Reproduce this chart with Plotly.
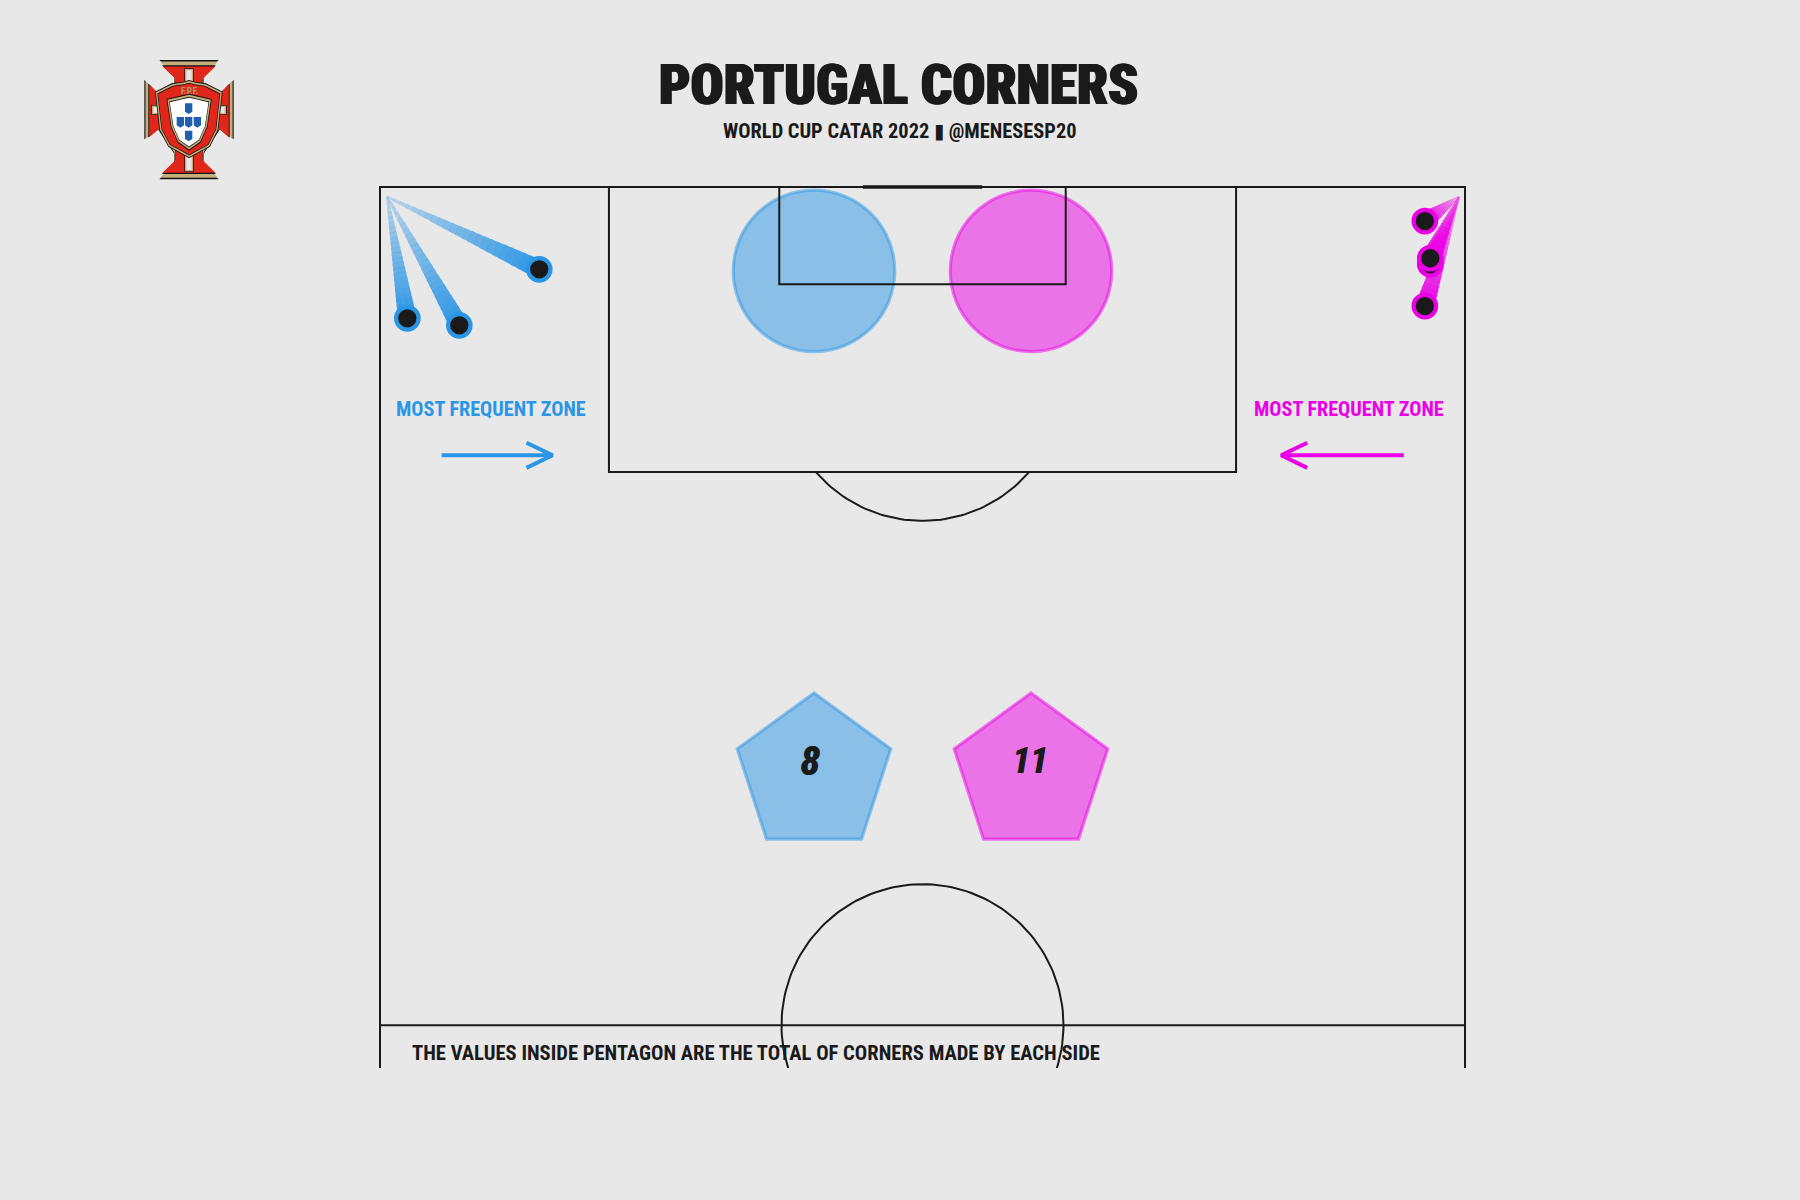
import numpy as np
import plotly.graph_objects as go

# ---------- data ----------
left_origin = (0.65, 99.42)
left_end_x = [14.68, 2.52, 7.31]
left_end_y = [95.09, 92.17, 91.75]
right_origin = (99.45, 99.42)
right_end_x = [96.3, 96.8, 96.8, 96.3]
right_end_y = [97.97, 95.4, 95.75, 92.9]
zone_x = [40, 60]
zone_y = [95, 95]
total_x = [40, 60]
total_y = [65, 65]
total_values = [8, 11]
zone_labels = ["MOST FREQUENT ZONE", "MOST FREQUENT ZONE"]

# ---------- style ----------
BG = "#E8E8E8"
INK = "#1A1A1A"
BLUE = "#2B96E6"
MAGENTA = "#EB00E5"
HEAD = "Roboto Condensed, DejaVu Sans Condensed, Roboto"

W, H = 1800, 1200
PX_X, PX_Y = 10.85, 16.76          # pixels per pitch unit
L, R, T, B = 370, 1475, 177, 1067.7  # plot area in pixels
ORG_X, ORG_Y = 380, 187


def to_x(px):
    return (px - ORG_X) / PX_X


def to_y(py):
    return 100 - (py - ORG_Y) / PX_Y


def paper_x(px):
    return (px - L) / (R - L)


def paper_y(py):
    return (B - py) / (B - T)


fig = go.Figure()


def line(xs, ys, width=2, color=INK, opacity=1):
    fig.add_trace(go.Scatter(x=xs, y=ys, mode="lines", opacity=opacity,
                             line=dict(color=color, width=width),
                             hoverinfo="skip", showlegend=False))


# ---------- zones and pentagons ----------
BLUE_A = "rgba(43,150,230,0.5)"
MAGENTA_A = "rgba(235,0,229,0.5)"
for symbol, xs, ys in (("circle", zone_x, zone_y), ("pentagon", total_x, total_y)):
    for x, y, c in zip(xs, ys, (BLUE_A, MAGENTA_A)):
        fig.add_trace(go.Scatter(x=[x], y=[y], mode="markers", hoverinfo="skip", showlegend=False,
                                 marker=dict(size=161.5, symbol=symbol, color=c,
                                             line=dict(color=c, width=3.2))))

# ---------- pitch ----------
line([0, 0, 100, 100], [0, 100, 100, 0])
line([0, 100], [50, 50])
line([21.1, 21.1, 78.9, 78.9], [100, 83, 83, 100])
line([36.8, 36.8, 63.2, 63.2], [100, 94.2, 94.2, 100])
line([44.5, 55.5], [100, 100], width=3.6)
t = np.linspace(0, 2 * np.pi, 181)
radius_px = 141
line(50 + radius_px / PX_X * np.cos(t), 50 + radius_px / PX_Y * np.sin(t), width=2)
t = np.linspace(np.pi + 0.716, 2 * np.pi - 0.716, 60)
line(50 + radius_px / PX_X * np.cos(t), 88.5 + radius_px / PX_Y * np.sin(t), width=2)


# ---------- corners ----------
def comet(origin, xs, ys, color, steps=24):
    for ex, ey in zip(xs, ys):
        length = np.hypot((ex - origin[0]) * PX_X, (ey - origin[1]) * PX_Y)
        overlap = 0.35 / length
        for i in range(steps):
            a, b = i / steps, (i + 1) / steps
            f = (a + b) / 2
            e = min(1, b + overlap)
            line([origin[0] + (ex - origin[0]) * a, origin[0] + (ex - origin[0]) * e],
                 [origin[1] + (ey - origin[1]) * a, origin[1] + (ey - origin[1]) * e],
                 width=2 + 17 * f, color=color, opacity=0.22 + 0.78 * f)
    fig.add_trace(go.Scatter(x=xs, y=ys, mode="markers", hoverinfo="skip", showlegend=False,
                             marker=dict(size=22.5, color=INK, line=dict(color=color, width=4.2))))


comet(left_origin, left_end_x, left_end_y, BLUE)
comet(right_origin, right_end_x, right_end_y, MAGENTA)


# ---------- arrows ----------
def arrow(x0, x1, y, color):
    d = 2.4 if x1 > x0 else -2.4
    fig.add_trace(go.Scatter(x=[x0, x1, None, x1 - d, x1, x1 - d],
                             y=[y, y, None, y + 0.75, y, y - 0.75],
                             mode="lines", hoverinfo="skip", showlegend=False,
                             line=dict(color=color, width=4)))


arrow(5.68, 15.9, 84, BLUE)
arrow(94.36, 83.06, 84, MAGENTA)

# ---------- text ----------
ann = []


def text(s, px, py, size, color=INK, italic=False, shadow="none", family=HEAD, weight=700):
    ann.append(dict(text=s, xref="paper", yref="paper", x=paper_x(px), y=paper_y(py),
                    xanchor="center", yanchor="middle", showarrow=False,
                    font=dict(family=family, size=size, color=color, weight=weight,
                              style="italic" if italic else "normal", shadow=shadow)))


text("PORTUGAL CORNERS", 898, 85.5, 55, shadow="1px 0 0 #1A1A1A, -1px 0 0 #1A1A1A", weight=900)
text("WORLD CUP CATAR 2022 ▮ @MENESESP20", 899.5, 131, 20.4)
text(zone_labels[0], 491, 409, 20.2, BLUE)
text(zone_labels[1], 1349, 409, 20.2, MAGENTA)
text("THE VALUES INSIDE PENTAGON ARE THE TOTAL OF CORNERS MADE BY EACH SIDE", 756, 1053, 20.6)
text(str(total_values[0]), 810, 761, 40, italic=True, shadow="1px 0 0 #1A1A1A")
text(str(total_values[1]), 1029, 761, 36, italic=True, shadow="1px 0 0 #1A1A1A")

# ---------- crest (drawn in zoom-like local pixels) ----------
shapes = []


def poly(points, fill, scale=1.0, cx=267, cy=269, line_color=None, lw=0):
    pts = [((cx + (x - cx) * scale) / 3 + 100, (cy + (y - cy) * scale) / 3 + 30) for x, y in points]
    path = "M " + " L ".join(f"{paper_x(x):.5f},{paper_y(y):.5f}" for x, y in pts) + " Z"
    shapes.append(dict(type="path", xref="paper", yref="paper", path=path, fillcolor=fill,
                       line=dict(color=line_color or fill, width=lw), layer="above"))


cross = [(178, 90), (356, 90), (312, 132), (312, 175), (362, 190), (401, 150), (401, 328), (362, 295),
         (312, 370), (312, 405), (356, 448), (178, 448), (222, 405), (222, 370), (172, 295), (133, 328),
         (133, 150), (172, 190), (222, 175), (222, 132)]
GOLD, RED, CBLUE = "#C2AE7A", "#E1261C", "#1F5FAE"
poly(cross, "#111111")
poly(cross, GOLD, 0.975)
poly(cross, "#111111", 0.91)
poly(cross, RED, 0.89)
# arm details
for cx_, cy_, w_, h_ in ((267, 143, 14, 28), (267, 398, 14, 28)):
    poly([(cx_ - w_, cy_ - h_), (cx_ + w_, cy_ - h_), (cx_ + w_, cy_ + h_), (cx_ - w_, cy_ + h_)], "#111111")
    poly([(cx_ - w_ + 2, cy_ - h_ + 2), (cx_ + w_ - 2, cy_ - h_ + 2), (cx_ + w_ - 2, cy_ + h_ - 2),
          (cx_ - w_ + 2, cy_ + h_ - 2)], GOLD)
    poly([(cx_ - w_ + 6, cy_ - h_ + 6), (cx_ + w_ - 6, cy_ - h_ + 6), (cx_ + w_ - 6, cy_ + h_ - 6),
          (cx_ - w_ + 6, cy_ + h_ - 6)], "#E8E8E8")
for cx_, cy_, w_, h_ in ((172, 240, 18, 15), (362, 240, 18, 15)):
    poly([(cx_ - w_, cy_ - h_), (cx_ + w_, cy_ - h_), (cx_ + w_, cy_ + h_), (cx_ - w_, cy_ + h_)], "#111111")
    poly([(cx_ - w_ + 2, cy_ - h_ + 2), (cx_ + w_ - 2, cy_ - h_ + 2), (cx_ + w_ - 2, cy_ + h_ - 2),
          (cx_ - w_ + 2, cy_ + h_ - 2)], GOLD)
    poly([(cx_ - w_ + 6, cy_ - h_ + 6), (cx_ + w_ - 6, cy_ - h_ + 6), (cx_ + w_ - 6, cy_ + h_ - 6),
          (cx_ - w_ + 6, cy_ + h_ - 6)], "#E8E8E8")
outer = [(165, 185), (215, 160), (250, 155), (267, 150), (285, 155), (318, 160), (368, 185), (355, 300),
         (330, 350), (290, 372), (267, 385), (245, 372), (205, 350), (178, 300)]
poly(outer, "#111111")
poly(outer, GOLD, 0.975)
poly(outer, "#111111", 0.93, cy=268)
poly(outer, RED, 0.91, cy=268)
inner = [(203, 210), (245, 200), (267, 195), (290, 200), (332, 210), (320, 290), (300, 335), (267, 358),
         (235, 335), (215, 290)]
poly(inner, "#111111", 1.05, cy=275)
poly(inner, GOLD, 1.01, cy=275)
poly(inner, "#111111", 0.93, cy=275)
poly(inner, "#FFFFFF", 0.9, cy=275)
for cx_, cy_ in ((266, 236), (241, 277), (266, 277), (292, 277), (266, 318)):
    poly([(cx_ - 11, cy_ - 16), (cx_ + 11, cy_ - 16), (cx_ + 11, cy_ + 9), (cx_, cy_ + 16), (cx_ - 11, cy_ + 9)],
         CBLUE)
ann.append(dict(text="F.P.F.", xref="paper", yref="paper", x=paper_x(267 / 3 + 100), y=paper_y(183 / 3 + 30),
                xanchor="center", yanchor="middle", showarrow=False,
                font=dict(family=HEAD, size=9, color="#B49C6A", weight=700)))

fig.update_layout(
    width=W, height=H, paper_bgcolor=BG, plot_bgcolor=BG, showlegend=False,
    margin=dict(l=L, r=W - R, t=T, b=H - B, pad=0),
    xaxis=dict(range=[to_x(L), to_x(R)], visible=False, fixedrange=True),
    yaxis=dict(range=[to_y(B), to_y(T)], visible=False, fixedrange=True),
    annotations=ann, shapes=shapes,
)
fig.write_html("out.html", config=dict(displayModeBar=False),
               post_script="document.body.style.margin='0';document.body.style.background='#E8E8E8';")
